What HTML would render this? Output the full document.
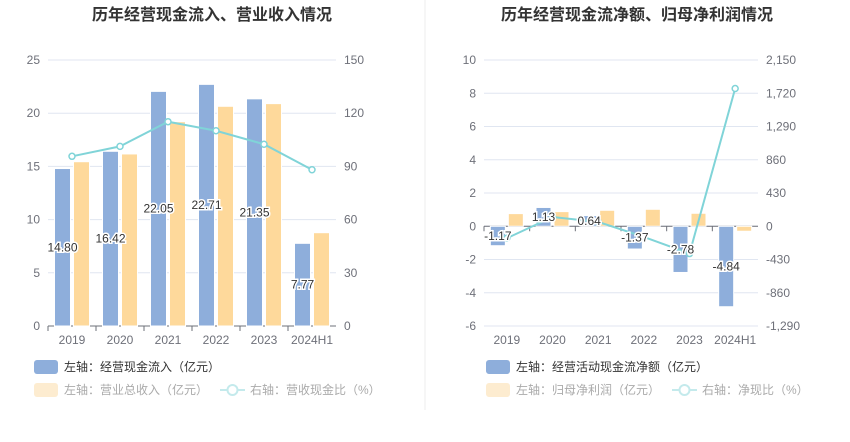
<!DOCTYPE html>
<html><head><meta charset="utf-8"><style>
body{margin:0;background:#fff;font-family:"Liberation Sans","Noto Sans CJK SC",sans-serif}
svg text{font-family:"Liberation Sans","Noto Sans CJK SC",sans-serif}
</style></head><body>
<svg id="s" width="850" height="437" xmlns="http://www.w3.org/2000/svg">
<line x1="425" y1="0" x2="425" y2="410" stroke="#eee"/>
<text x="212" y="20" text-anchor="middle" font-size="16" font-weight="bold" fill="#333">历年经营现金流入、营业收入情况</text>
<text x="637" y="20" text-anchor="middle" font-size="16" font-weight="bold" fill="#333">历年经营现金流净额、归母净利润情况</text>
<g id="L"></g><g id="R"></g>
<g>
<rect x="34" y="360" width="24" height="14" rx="3" fill="#8eaedb"/>
<text x="64" y="371" font-size="12" fill="#333">左轴：经营现金流入（亿元）</text>
<rect x="34" y="383" width="24" height="14" rx="3" fill="#fdecd0"/>
<text x="64" y="394" font-size="12" fill="#aaa">左轴：营业总收入（亿元）</text>
<line x1="220" y1="390" x2="245" y2="390" stroke="#c4eaec" stroke-width="2"/><circle cx="232.5" cy="390" r="5" fill="#fff" stroke="#c4eaec" stroke-width="2"/>
<text x="250" y="394" font-size="12" fill="#aaa">右轴：营收现金比（%）</text>
</g>
<g>
<rect x="486" y="360" width="24" height="14" rx="3" fill="#8eaedb"/>
<text x="516" y="371" font-size="12" fill="#333">左轴：经营活动现金流净额（亿元）</text>
<rect x="486" y="383" width="24" height="14" rx="3" fill="#fdecd0"/>
<text x="516" y="394" font-size="12" fill="#aaa">左轴：归母净利润（亿元）</text>
<line x1="672" y1="390" x2="697" y2="390" stroke="#c4eaec" stroke-width="2"/><circle cx="684.5" cy="390" r="5" fill="#fff" stroke="#c4eaec" stroke-width="2"/>
<text x="702" y="394" font-size="12" fill="#aaa">右轴：净现比（%）</text>
</g>
</svg>
<script>
const categories=["2019","2020","2021","2022","2023","2024H1"];
const inflow=[14.80,16.42,22.05,22.71,21.35,7.77];
const revenue=[15.44,16.17,19.2,20.65,20.9,8.77];
const cashRatio=[95.7,101.3,115.2,110.1,102.5,88.1];
const leftTicks=[0,5,10,15,20,25];
const leftRTicks=[0,30,60,90,120,150];
const netCash=[-1.17,1.13,0.64,-1.37,-2.78,-4.84];
const profit=[0.76,0.88,0.96,1.02,0.78,-0.3];
const netRatio=[-155,120,56,-138,-353,1781];
const rightTicks=[-6,-4,-2,0,2,4,6,8,10];
const rightRTicks=["-1,290","-860","-430","0","430","860","1,290","1,720","2,150"];
const NS="http://www.w3.org/2000/svg";
function mk(p,t,a,txt){const e=document.createElementNS(NS,t);for(const k in a)e.setAttribute(k,a[k]);if(txt!==undefined)e.textContent=txt;p.appendChild(e);return e;}
function chart(g,o){
 const {x0,x1,yTop,yBot,min,max,rmin,rmax,ticks,rticks,a,b,line,fmt}=o;
 const y=v=>yBot-(v-min)/(max-min)*(yBot-yTop);
 const yr=v=>yBot-(v-rmin)/(rmax-rmin)*(yBot-yTop);
 const bw=(x1-x0)/categories.length;
 const cx=i=>x0+bw*(i+0.5);
 ticks.forEach((t,i)=>{const yy=y(t);
  const gl=mk(g,'line',{x1:x0,x2:x1,y1:yy,y2:yy,stroke:'#e0e6f1'});
  
  const tl=mk(g,'text',{x:x0-8,y:yy+4,'text-anchor':'end','font-size':12,fill:'#6e7079'},t);
  
  const tr=mk(g,'text',{x:x1+8,y:yy+4,'font-size':12,fill:'#6e7079'},rticks[i]);
  
 });
 const z=y(0);
 const ax=mk(g,'line',{x1:x0,x2:x1,y1:z,y2:z,stroke:'#6e7079'});
 
 const w=o.w;
 categories.forEach((c,i)=>{
  mk(g,'line',{x1:x0+bw*i,x2:x0+bw*i,y1:z,y2:z+5,stroke:'#6e7079'});
  const xl=mk(g,'text',{x:cx(i),y:yBot+18,'text-anchor':'middle','font-size':12,fill:'#6e7079'},c);
  
  const ya=y(a[i]);
  const r1=mk(g,'rect',{x:cx(i)-w-1.5,y:Math.min(ya,z),width:w,height:Math.abs(z-ya),fill:'#8eaedb',stroke:'#fff','stroke-width':1});
  
  const yb=y(b[i]);
  const r2=mk(g,'rect',{x:cx(i)+1.5,y:Math.min(yb,z),width:w,height:Math.abs(z-yb),fill:'#fed99b',stroke:'#fff','stroke-width':1});
  
 });
 const pts=line.map((v,i)=>cx(i)+','+yr(v)).join(' ');
 const pl=mk(g,'polyline',{points:pts,fill:'none',stroke:'#80d4d8','stroke-width':2});
 
 line.forEach((v,i)=>{const p=mk(g,'circle',{cx:cx(i),cy:yr(v),r:3,fill:'#fff',stroke:'#80d4d8','stroke-width':1.5});
  });
 a.forEach((v,i)=>{const ly=(y(v)+z)/2+4;
  const t=mk(g,'text',{x:cx(i)-w/2-1.5,y:ly,'text-anchor':'middle','font-size':12,fill:'#333',stroke:'#fff','stroke-width':3,'paint-order':'stroke'},fmt(v));
  });
}
chart(document.getElementById('L'),{x0:48,x1:336,yTop:60,yBot:326,min:0,max:25,rmin:0,rmax:150,ticks:leftTicks,rticks:leftRTicks,a:inflow,b:revenue,line:cashRatio,w:16,fmt:v=>v.toFixed(2)});
chart(document.getElementById('R'),{x0:484,x1:758,yTop:60,yBot:326,min:-6,max:10,rmin:-1290,rmax:2150,ticks:rightTicks,rticks:rightRTicks,a:netCash,b:profit,line:netRatio,w:15,fmt:v=>v.toFixed(2)});
</script>
</body></html>
